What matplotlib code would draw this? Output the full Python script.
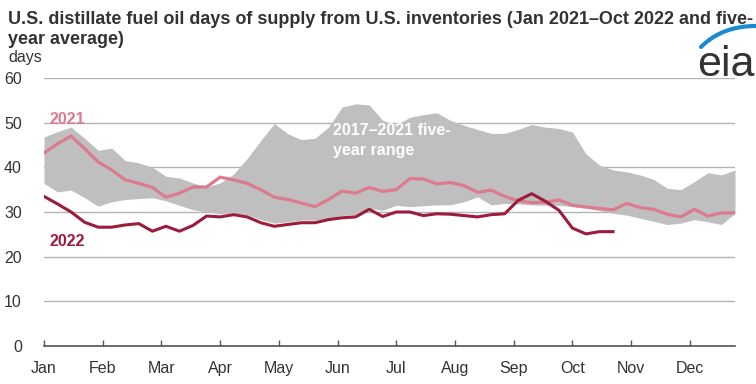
import numpy as np
import matplotlib
matplotlib.use("Agg")
from matplotlib import pyplot as plt
from matplotlib.lines import Line2D

plt.rcParams['font.family'] = ['Liberation Sans', 'DejaVu Sans']

# weekly values, week 0 = first week of January
months = ['Jan', 'Feb', 'Mar', 'Apr', 'May', 'Jun', 'Jul', 'Aug', 'Sep', 'Oct', 'Nov', 'Dec']

days_2021 = [43.2, 45.3, 47.0, 44.2, 41.2, 39.4, 37.2, 36.4, 35.5, 33.3,
             34.2, 35.6, 35.6, 37.8, 37.2, 36.4, 35.0, 33.3, 32.8, 32.0,
             31.2, 32.8, 34.7, 34.2, 35.5, 34.6, 35.0, 37.5, 37.4, 36.3,
             36.6, 35.9, 34.4, 34.9, 33.5, 32.5, 32.1, 32.2, 32.7, 31.5,
             31.1, 30.8, 30.5, 31.9, 31.0, 30.6, 29.5, 28.9, 30.6, 29.1,
             29.8, 29.8]

days_2022 = [33.5, 31.8, 30.0, 27.7, 26.6, 26.6, 27.1, 27.4, 25.7, 26.8,
             25.7, 27.0, 29.1, 28.9, 29.4, 28.9, 27.6, 26.8, 27.2, 27.6,
             27.6, 28.3, 28.7, 28.9, 30.6, 29.0, 30.0, 30.0, 29.2, 29.6,
             29.5, 29.2, 28.9, 29.4, 29.6, 32.6, 34.1, 32.4, 30.4, 26.4,
             25.1, 25.6, 25.6]

range_high = [46.8, 48.0, 49.0, 46.5, 43.8, 44.3, 41.5, 41.0, 40.0, 38.0,
              37.6, 36.5, 35.6, 36.5, 38.5, 42.0, 46.0, 49.8, 47.5, 46.2,
              46.5, 49.0, 53.5, 54.2, 54.0, 50.5, 49.5, 51.2, 51.8, 52.2,
              50.5, 49.4, 48.5, 47.6, 47.6, 48.5, 49.6, 49.0, 48.7, 47.9,
              43.0, 40.5, 39.4, 39.0, 38.3, 37.3, 35.3, 35.0, 36.8, 38.8,
              38.3, 39.4]

range_low = [36.4, 34.5, 34.9, 33.2, 31.3, 32.3, 32.8, 33.0, 33.2, 32.5,
             31.5, 30.5, 30.0, 29.6, 29.8, 29.4, 28.3, 27.5, 27.8, 28.2,
             28.2, 28.6, 29.2, 29.4, 30.8, 30.4, 31.5, 31.2, 31.4, 31.6,
             31.6, 32.3, 33.4, 31.6, 31.9, 31.8, 31.6, 31.5, 31.5, 31.2,
             30.9, 30.3, 29.7, 29.3, 28.6, 27.9, 27.2, 27.5, 28.3, 27.8,
             27.2, 29.7]

col_band = '#bfbfbf'
col_2021 = '#dc7a90'
col_2022 = '#9c1c3c'
col_text = '#333333'


def main():
    fig = plt.figure(figsize=(7.56, 3.84), dpi=100)
    ax = fig.add_axes([44 / 756, 38 / 384, 691 / 756, 268 / 384])

    weeks = np.arange(len(range_high))
    ax.fill_between(weeks, range_low, range_high, color=col_band, lw=0, zorder=2)
    ax.plot(weeks, days_2021, color=col_2021, lw=2.3, zorder=3)
    ax.plot(np.arange(len(days_2022)), days_2022, color=col_2022, lw=2.2, zorder=4)

    ax.set_xlim(0, 51)
    ax.set_ylim(0, 60)
    ax.set_yticks(range(0, 61, 10))
    ax.yaxis.grid(True, color='#b4b4b4', lw=1.0, zorder=1)
    ax.set_axisbelow(True)
    ax.tick_params(axis='y', length=0, pad=16, labelsize=11.5, labelcolor=col_text)

    ax.set_xticks([i * 52 / 12 for i in range(12)])
    ax.set_xticklabels(months)
    ax.tick_params(axis='x', length=4, width=1, color='#555555', pad=11,
                   labelsize=11.5, labelcolor=col_text, direction='in')
    for s in ['top', 'right', 'left']:
        ax.spines[s].set_visible(False)
    ax.spines['bottom'].set_color('#555555')
    ax.spines['bottom'].set_linewidth(1.2)
    ax.spines['bottom'].set_zorder(5)

    ax.text(0.4, 50.6, '2021', color=col_2021, fontsize=11.5, fontweight='bold', va='center')
    ax.text(0.4, 23.3, '2022', color=col_2022, fontsize=11.5, fontweight='bold', va='center')
    ax.text(21.3, 46.0, '2017\u20132021 five-\nyear range', color='white', fontsize=11.5,
            fontweight='bold', va='center', linespacing=1.4, zorder=6)

    fig.text(8 / 756, 1 - 24 / 384,
             'U.S. distillate fuel oil days of supply from U.S. inventories (Jan 2021\u2013Oct 2022 and five-',
             fontsize=13, fontweight='bold', color=col_text, va='baseline', ha='left')
    fig.text(8 / 756, 1 - 44 / 384, 'year average)',
             fontsize=13, fontweight='bold', color=col_text, va='baseline', ha='left')
    fig.text(8 / 756, 1 - 62 / 384, 'days', fontsize=11.5, color=col_text, va='baseline')

    # eia logo
    fig.text(697 / 756, 1 - 76 / 384, 'eia', fontsize=31, color='#333333', va='baseline', ha='left')
    t = np.linspace(0, 1, 30)
    px = (1 - t) ** 2 * 701 + 2 * (1 - t) * t * 722 + t ** 2 * 756
    py = (1 - t) ** 2 * 47 + 2 * (1 - t) * t * 26 + t ** 2 * 26
    fig.add_artist(Line2D(px / 756, 1 - py / 384, color='#1a8ad0', lw=3, solid_capstyle='round'))

    fig.savefig('out.png', dpi=100)


if __name__ == '__main__':
    main()
